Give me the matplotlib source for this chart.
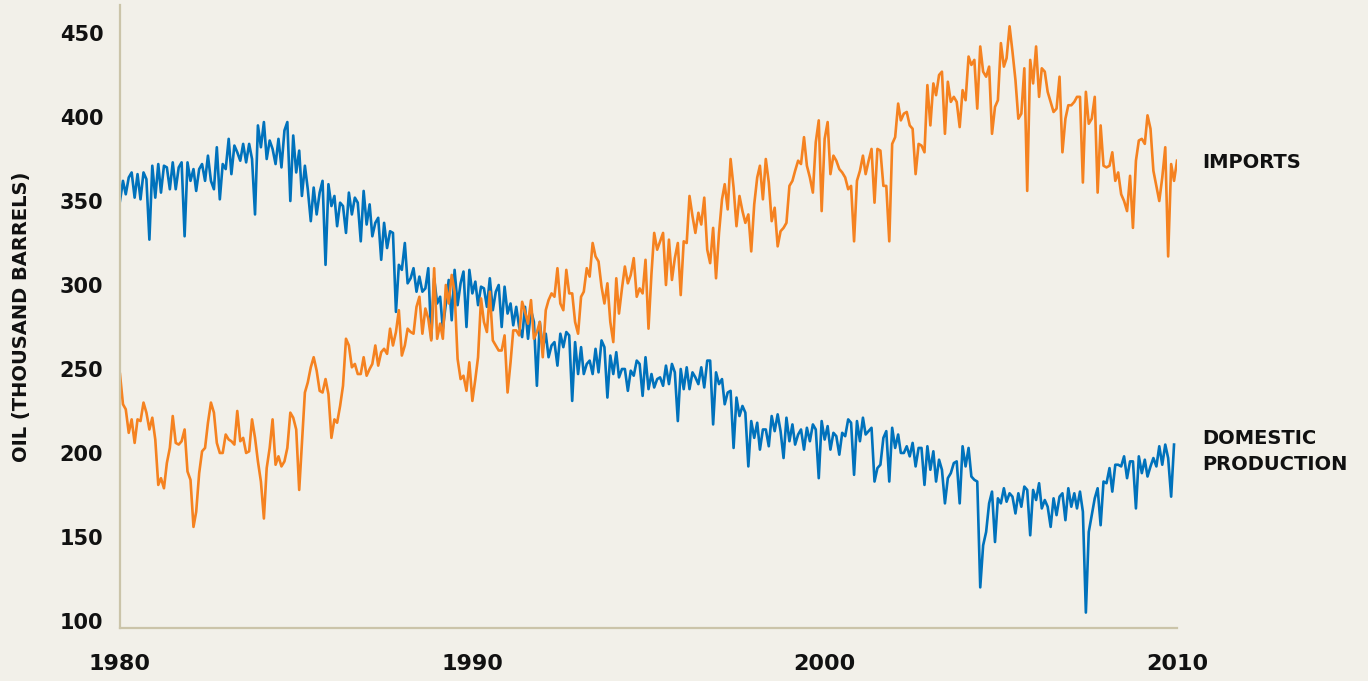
import numpy as np
import pandas as pd
import matplotlib
matplotlib.use('Agg')
import matplotlib.pyplot as plt
from matplotlib.transforms import blended_transform_factory

# ------------------------------  DATA  -----------------------------------
# monthly oil, thousand barrels (Jan 1980 onwards)
DOMESTIC = [
    350, 362, 354, 364, 367, 352, 366, 351, 367, 363, 327, 371, 352, 372, 355, 371, 370, 357, 373, 357,
    370, 373, 329, 373, 362, 369, 356, 369, 372, 362, 377, 362, 357, 382, 351, 372, 369, 387, 366, 383,
    379, 374, 384, 373, 384, 375, 342, 395, 382, 397, 375, 386, 381, 372, 387, 370, 392, 397, 350, 389,
    367, 380, 353, 371, 357, 338, 358, 342, 355, 362, 312, 360, 347, 353, 335, 349, 347, 331, 355, 342,
    352, 349, 326, 356, 336, 348, 329, 337, 340, 315, 337, 322, 332, 331, 284, 312, 309, 325, 301, 304,
    310, 296, 305, 296, 298, 310, 268, 304, 289, 293, 274, 289, 303, 279, 309, 288, 301, 308, 275, 309,
    295, 302, 288, 299, 298, 287, 304, 285, 296, 300, 275, 299, 283, 289, 276, 287, 275, 269, 287, 268,
    285, 278, 240, 278, 262, 271, 257, 264, 266, 252, 271, 263, 272, 270, 231, 266, 247, 263, 247, 253,
    255, 247, 262, 248, 267, 263, 233, 258, 247, 260, 245, 250, 250, 237, 249, 246, 255, 253, 234, 257,
    238, 247, 239, 244, 245, 240, 252, 241, 253, 248, 219, 250, 238, 251, 238, 248, 245, 241, 251, 239,
    255, 255, 217, 248, 241, 244, 229, 236, 237, 203, 233, 222, 228, 224, 192, 219, 209, 218, 202, 214,
    214, 204, 222, 213, 223, 213, 197, 221, 207, 217, 205, 211, 214, 202, 215, 207, 217, 214, 185, 219,
    208, 216, 202, 212, 210, 199, 212, 210, 220, 218, 187, 219, 207, 221, 211, 213, 215, 183, 191, 193,
    209, 213, 183, 215, 203, 211, 200, 200, 204, 198, 206, 192, 203, 203, 181, 204, 190, 201, 183, 196,
    190, 170, 185, 188, 194, 195, 170, 204, 192, 203, 186, 184, 183,
    120, 145, 153, 170, 177, 147, 173, 170, 179, 171, 176, 174, 164, 176, 168, 180, 178, 151, 178, 172,
    182, 167, 172, 168, 156, 173, 163, 174, 176, 160, 179, 168, 176, 167, 177, 165, 105, 153, 163, 173,
    179, 157, 183, 182, 191, 177, 193, 193, 192, 198, 185, 195, 195, 167, 198, 188, 196, 186, 192, 197,
    192, 204, 193, 205, 197, 174, 205,
]

IMPORTS = [
    247, 229, 226, 212, 220, 206, 220, 219, 230, 224, 214, 221, 208, 181, 185, 179, 194, 203, 222, 206,
    205, 207, 214, 189, 184, 156, 165, 188, 201, 203, 218, 230, 224, 206, 200, 200, 211, 208, 207, 205,
    225, 207, 209, 200, 201, 220, 209, 195, 183, 161, 191, 203, 220, 193, 198, 192, 195, 203, 224, 221,
    214, 178, 206, 236, 242, 251, 257, 249, 237, 236, 244, 235, 209, 220, 218, 228, 240,
    268, 264, 251, 253, 247, 247, 257, 246, 250, 253, 264, 252, 260, 262, 259, 274, 264, 272, 285, 258,
    264, 274, 272, 271, 287, 293, 271, 286, 280, 267, 310, 268, 277, 268, 300, 289, 306, 296, 256, 244,
    246, 237, 254, 231,
    244, 257, 292, 278, 272, 296, 267, 264, 261, 261, 270, 236, 254, 273, 273, 270, 290, 284, 277, 291,
    268, 272, 278, 257, 285, 291, 295, 293, 310, 289, 285, 309, 295, 295, 278, 271, 293, 296, 310, 305,
    325, 317, 314, 299, 289, 301, 278, 266, 304, 283, 298, 311, 301, 306, 316, 293, 298, 295, 315, 274,
    307, 331, 321, 326, 331, 300, 327, 303, 316, 325, 294, 326, 325, 353, 341, 331, 343, 336, 352, 321,
    313, 334, 304, 331, 351, 360, 345, 375, 358, 335, 353, 344, 337, 342, 320, 348, 364, 371, 351, 375,
    361, 338, 346, 323, 332, 334, 337, 359, 362, 368, 374, 372, 388, 371, 364, 355, 385, 398, 344, 387,
    397, 366, 377, 374, 369, 367, 364, 357, 359, 326, 362, 368, 377, 366, 374, 381, 349, 381, 380, 359,
    359, 326, 384, 388, 408, 398, 402, 403, 395, 393, 366, 384, 383, 379, 419, 395, 420, 413, 425, 427,
    390, 421, 409, 412, 409, 394, 416, 410, 436,
    431, 434, 405, 442, 427, 424, 430, 390, 406, 410, 444, 430, 435, 454, 439, 422, 399, 402, 429, 356,
    434, 420, 442, 412, 429, 427, 415, 409, 403, 405, 424, 379, 399, 407, 407, 409, 412, 412, 361, 415,
    396, 399, 412, 355, 395, 371, 370, 371, 379, 362, 367, 354, 350, 344, 365, 334, 374, 386, 387, 384,
    401, 393, 368, 359, 350, 364, 382, 317, 372, 362, 374,
]

YEARS = [1980, 1990, 2000, 2010]
Y_TICKS = [100, 150, 200, 250, 300, 350, 400, 450]

BG = '#f2f0e9'
BLUE = '#0072bc'
ORANGE = '#f58220'
AXIS = '#cbc4a9'
INK = '#111111'

# ------------------------------  MAIN BODY  -----------------------------
dom_dates = pd.date_range('1980-01-01', periods=len(DOMESTIC), freq='MS')
imp_dates = pd.date_range('1980-01-01', periods=len(IMPORTS), freq='MS')

fig = plt.figure(figsize=(13.68, 6.81), dpi=100, facecolor=BG)
ax = fig.add_axes([0.0877, 0.0778, 0.7727, 0.9149])
ax.set_facecolor(BG)

ax.plot(dom_dates, DOMESTIC, color=BLUE, lw=1.9)
ax.plot(imp_dates, IMPORTS, color=ORANGE, lw=1.9)

ax.set_xlim(pd.Timestamp('1980-01-01'), pd.Timestamp('2010-01-01'))
ax.set_ylim(95.8, 466.7)
ax.set_yticks(Y_TICKS)
ax.set_xticks([pd.Timestamp(f'{y}-01-01') for y in YEARS])
ax.set_xticklabels([str(y) for y in YEARS])

for side in ['top', 'right']:
    ax.spines[side].set_visible(False)
for side in ['left', 'bottom']:
    ax.spines[side].set_color(AXIS)
    ax.spines[side].set_linewidth(1.6)

ax.tick_params(axis='both', length=0, colors=INK)
ax.tick_params(axis='y', pad=12, labelsize=15)
ax.tick_params(axis='x', pad=19, labelsize=16)
for lab in ax.get_xticklabels() + ax.get_yticklabels():
    lab.set_fontweight('bold')
for lab in ax.get_xticklabels():
    lab.set_x(lab.get_position()[0])

fig.text(22 / 1368, 1 - 317 / 681, 'OIL (THOUSAND BARRELS)', rotation=90,
         ha='center', va='center', fontsize=14, fontweight='bold', color=INK)

trans = blended_transform_factory(ax.transAxes, ax.transData)
ax.text(1.0237, 373, 'IMPORTS', transform=trans, ha='left', va='center',
        fontsize=14, fontweight='bold', color=INK, clip_on=False)
ax.text(1.0237, 201, 'DOMESTIC\nPRODUCTION', transform=trans, ha='left', va='center',
        fontsize=14, fontweight='bold', color=INK, linespacing=1.45, clip_on=False)

fig.savefig('out.png', dpi=100, facecolor=BG)
print('Done!')
